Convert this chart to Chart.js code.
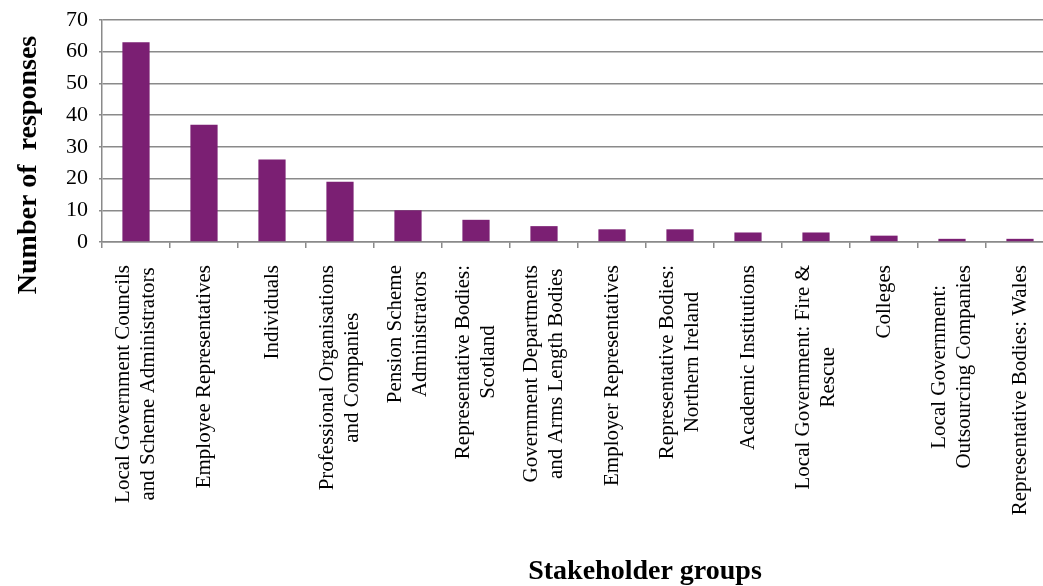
<!DOCTYPE html>
<html>
<head>
<meta charset="utf-8">
<script src="https://cdn.jsdelivr.net/npm/chart.js@4.4.1/dist/chart.umd.min.js"></script>
<style>
html,body{margin:0;padding:0;background:#fff;overflow:hidden;}
#wrap{position:relative;width:1054px;height:586px;}
</style>
</head>
<body>
<div id="wrap"><canvas id="c"></canvas></div>
<script>
const categories = [
  ["Local Government Councils", "and Scheme Administrators"],
  ["Employee Representatives"],
  ["Individuals"],
  ["Professional Organisations", "and Companies"],
  ["Pension Scheme", "Administrators"],
  ["Representative Bodies:", "Scotland"],
  ["Government Departments", "and Arms Length Bodies"],
  ["Employer Representatives"],
  ["Representative Bodies:", "Northern Ireland"],
  ["Academic Institutions"],
  ["Local Government: Fire &", "Rescue"],
  ["Colleges"],
  ["Local Government:", "Outsourcing Companies"],
  ["Representative Bodies: Wales"]
];
const responses = [63, 37, 26, 19, 10, 7, 5, 4, 4, 3, 3, 2, 1, 1];
const yTicks = [0, 10, 20, 30, 40, 50, 60, 70];
const yTitle = "Number of  responses";
const xTitle = "Stakeholder groups";

const FONT = "'Liberation Serif', 'Times New Roman', serif";
const PLOT_LEFT = 102, PLOT_TOP = 20, PLOT_BOTTOM = 242;

const labelPlugin = {
  id: 'labelPlugin',
  afterDraw(chart) {
    const ctx = chart.ctx;
    const xs = chart.scales.x;
    const area = chart.chartArea;
    ctx.save();
    ctx.fillStyle = '#000';
    ctx.font = "21px " + FONT;
    ctx.textAlign = 'center';
    ctx.textBaseline = 'middle';
    const lh = 25;
    const top = area.bottom + 23;
    categories.forEach((lines, i) => {
      const cx = xs.getPixelForValue(i);
      const widths = lines.map(l => ctx.measureText(l).width);
      const maxW = Math.max(...widths);
      lines.forEach((l, j) => {
        const off = (j - (lines.length - 1) / 2) * lh;
        ctx.save();
        ctx.translate(cx + off, top + maxW / 2);
        ctx.rotate(-Math.PI / 2);
        ctx.fillText(l, 0, 0);
        ctx.restore();
      });
    });
    // axis titles
    ctx.font = "bold 28px " + FONT;
    ctx.save();
    ctx.translate(29, 165);
    ctx.rotate(-Math.PI / 2);
    ctx.fillText(yTitle, 0, 0);
    ctx.restore();
    ctx.fillText(xTitle, 645, 572);
    ctx.restore();
  }
};

new Chart(document.getElementById('c'), {
  type: 'bar',
  data: {
    labels: categories.map(c => c.join(' ')),
    datasets: [{
      data: responses,
      backgroundColor: '#7b1f73',
      borderWidth: 0,
      barPercentage: 0.4,
      categoryPercentage: 1.0
    }]
  },
  options: {
    responsive: true,
    maintainAspectRatio: false,
    animation: false,
    layout: { padding: { top: PLOT_TOP, left: 0, right: 0, bottom: 0 } },
    plugins: { legend: { display: false }, tooltip: { enabled: false } },
    scales: {
      x: {
        offset: true,
        grid: { display: true, drawOnChartArea: false, drawTicks: true, tickLength: 6, color: '#8a8a8a', lineWidth: 1.5, offset: true },
        border: { display: true, color: '#8a8a8a', width: 1.5 },
        ticks: { display: false },
        afterFit(scale) { scale.height = 586 - PLOT_BOTTOM; }
      },
      y: {
        min: 0, max: 70,
        afterBuildTicks(scale) { scale.ticks = yTicks.map(v => ({ value: v })); },
        grid: { color: '#8a8a8a', lineWidth: 1.5, tickLength: 3 },
        border: { display: true, color: '#8a8a8a', width: 1.5 },
        ticks: { color: '#000', font: { family: FONT, size: 22 }, padding: 11 },
        afterFit(scale) { scale.width = PLOT_LEFT; scale.paddingTop = 0; scale.paddingBottom = 0; }
      }
    }
  },
  plugins: [labelPlugin]
});
</script>
</body>
</html>
